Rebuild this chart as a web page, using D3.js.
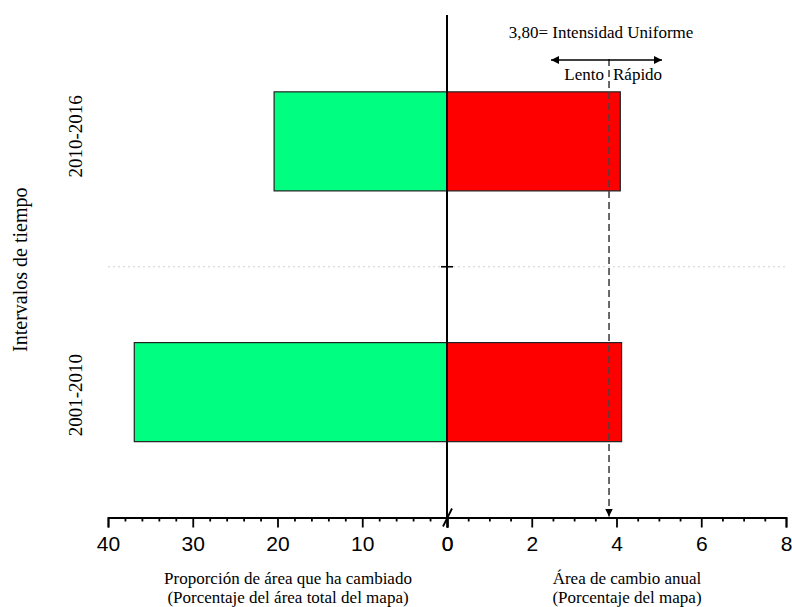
<!DOCTYPE html>
<html><head><meta charset="utf-8">
<script src="https://cdn.jsdelivr.net/npm/d3@7"></script>
<style>body{margin:0;background:#fff}svg{display:block}</style>
</head><body>
<svg id="c" width="792" height="607"></svg>
<script>
const categories = ["2010-2016", "2001-2010"];
const proportionChanged = [20.4, 36.9];   // % of total map area (left)
const annualChange = [4.09, 4.12];        // % of map per year (right)
const uniformIntensity = 3.80;
const leftTicks = [40, 30, 20, 10, 0];
const rightTicks = [0, 2, 4, 6, 8];

const svg = d3.select("#c");
const serif = "'Liberation Serif','Times New Roman',serif";
const sans = "'Liberation Sans',Arial,sans-serif";

const x0 = 447, yTop = 16, yBot = 517.5;
const xL = d3.scaleLinear().domain([0, 40]).range([x0, 108]);
const xR = d3.scaleLinear().domain([0, 8]).range([x0, 786]);
const y = d3.scaleBand().domain(categories).range([yTop, yBot]).padding(0);
const bw = y.bandwidth();
const barH = bw * 0.395;

// separator grid line
svg.append("line").attr("x1", 108).attr("x2", 786)
  .attr("y1", y(categories[1])).attr("y2", y(categories[1]))
  .attr("stroke", "#d0d0d0").attr("stroke-dasharray", "2,3");

// bars
const rows = categories.map((c, i) => ({c, l: proportionChanged[i], r: annualChange[i]}));
svg.selectAll("rect.l").data(rows).join("rect").attr("class", "l")
  .attr("x", d => xL(d.l)).attr("width", d => xL(0) - xL(d.l))
  .attr("y", d => y(d.c) + (bw - barH) / 2).attr("height", barH)
  .attr("fill", "#00ff80").attr("stroke", "#222").attr("stroke-width", 1.2);
svg.selectAll("rect.r").data(rows).join("rect").attr("class", "r")
  .attr("x", xR(0)).attr("width", d => xR(d.r) - xR(0))
  .attr("y", d => y(d.c) + (bw - barH) / 2).attr("height", barH)
  .attr("fill", "#ff0000").attr("stroke", "#222").attr("stroke-width", 1.2);

// vertical axis
svg.append("line").attr("x1", x0).attr("x2", x0).attr("y1", yTop - 1).attr("y2", yBot)
  .attr("stroke", "#000").attr("stroke-width", 2);
svg.append("line").attr("x1", x0 - 6).attr("x2", x0 + 6)
  .attr("y1", y(categories[1])).attr("y2", y(categories[1]))
  .attr("stroke", "#000").attr("stroke-width", 1.6);

// bottom axes
function drawAxis(scale, major, minorStep) {
  const dom = scale.domain();
  const minor = d3.range(dom[0], dom[1] + 1e-9, minorStep).filter(v => !major.some(m => Math.abs(m - v) < 1e-9));
  const gMin = svg.append("g").attr("transform", `translate(0,${yBot})`)
    .call(d3.axisBottom(scale).tickValues(minor).tickSize(4).tickSizeOuter(0).tickFormat(""));
  gMin.select(".domain").remove();
  const g = svg.append("g").attr("transform", `translate(0,${yBot})`)
    .call(d3.axisBottom(scale).tickValues(major).tickSize(10).tickSizeOuter(10).tickPadding(9).tickFormat(d3.format("d")));
  [gMin, g].forEach(gg => {
    gg.selectAll("line").attr("stroke", "#000").attr("stroke-width", 1.8);
    gg.selectAll(".domain").attr("stroke", "#000").attr("stroke-width", 1.8);
  });
  g.selectAll("text").attr("font-family", sans).attr("font-size", 21).attr("fill", "#000");
  return g;
}
drawAxis(xL, leftTicks, 2);
drawAxis(xR, rightTicks, 0.5);

// break mark
svg.append("line").attr("x1", x0 - 4).attr("y1", yBot + 9).attr("x2", x0 + 5).attr("y2", yBot - 9)
  .attr("stroke", "#000").attr("stroke-width", 1.8);

// uniform intensity dashed line with arrow
const defs = svg.append("defs");
defs.append("marker").attr("id", "ah").attr("viewBox", "0 0 10 10").attr("refX", 10).attr("refY", 5)
  .attr("markerWidth", 8).attr("markerHeight", 9).attr("markerUnits", "userSpaceOnUse").attr("orient", "auto-start-reverse")
  .append("path").attr("d", "M0,0L10,5L0,10Z").attr("fill", "#000");
defs.append("marker").attr("id", "ah2").attr("viewBox", "0 0 10 10").attr("refX", 10).attr("refY", 5)
  .attr("markerWidth", 13).attr("markerHeight", 8).attr("markerUnits", "userSpaceOnUse").attr("orient", "auto-start-reverse")
  .append("path").attr("d", "M0,0L10,5L0,10Z").attr("fill", "#000");

const xu = xR(uniformIntensity) + 1;
svg.append("line").attr("x1", xu).attr("x2", xu).attr("y1", 59).attr("y2", yBot - 1)
  .attr("stroke", "#444").attr("stroke-width", 1.6).attr("stroke-dasharray", "7,4")
  .attr("marker-end", "url(#ah)");
svg.append("line").attr("x1", xu - 58).attr("x2", xu + 53).attr("y1", 60).attr("y2", 60)
  .attr("stroke", "#000").attr("stroke-width", 1.3)
  .attr("marker-start", "url(#ah2)").attr("marker-end", "url(#ah2)");

svg.append("text").attr("x", xu - 8).attr("y", 38).attr("text-anchor", "middle")
  .attr("font-family", serif).attr("font-size", 17).text("3,80= Intensidad Uniforme");
svg.append("text").attr("x", xu - 5).attr("y", 80).attr("text-anchor", "end")
  .attr("font-family", serif).attr("font-size", 17).text("Lento");
svg.append("text").attr("x", xu + 4).attr("y", 80).attr("text-anchor", "start")
  .attr("font-family", serif).attr("font-size", 17).text("Rápido");

// category labels
const catShift = [-5, 3];
svg.selectAll("text.cat").data(categories).join("text").attr("class", "cat")
  .attr("transform", (d, i) => `translate(82,${y(d) + bw / 2 + catShift[i]}) rotate(-90)`)
  .attr("text-anchor", "middle").attr("font-family", serif).attr("font-size", 19).text(d => d);
svg.append("text").attr("transform", `translate(27,${(yTop + yBot) / 2 + 3}) rotate(-90)`)
  .attr("text-anchor", "middle").attr("font-family", serif).attr("font-size", 20).text("Intervalos de tiempo");

// axis titles
const t1 = svg.append("text").attr("text-anchor", "middle").attr("font-family", serif).attr("font-size", 17);
t1.append("tspan").attr("x", 288).attr("y", 584).text("Proporción de área que ha cambiado");
t1.append("tspan").attr("x", 288).attr("y", 603).text("(Porcentaje del área total del mapa)");
const t2 = svg.append("text").attr("text-anchor", "middle").attr("font-family", serif).attr("font-size", 17);
t2.append("tspan").attr("x", 627).attr("y", 584).text("Área de cambio anual");
t2.append("tspan").attr("x", 627).attr("y", 603).text("(Porcentaje del mapa)");
</script>
</body></html>
